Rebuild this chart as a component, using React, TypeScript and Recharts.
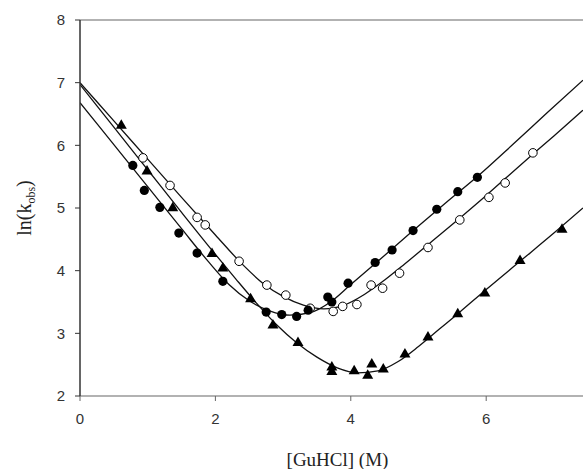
import React from "react";
import { ComposedChart, Line, Scatter, XAxis, YAxis, ReferenceLine } from "recharts";

// Data points
const filledCircles = [
  { x: 0.78, y: 5.68 }, { x: 0.95, y: 5.28 }, { x: 1.18, y: 5.01 }, { x: 1.46, y: 4.6 },
  { x: 1.73, y: 4.28 }, { x: 2.11, y: 3.83 }, { x: 2.75, y: 3.34 }, { x: 2.98, y: 3.3 },
  { x: 3.2, y: 3.27 }, { x: 3.37, y: 3.37 }, { x: 3.66, y: 3.58 }, { x: 3.72, y: 3.5 },
  { x: 3.96, y: 3.8 }, { x: 4.36, y: 4.13 }, { x: 4.61, y: 4.33 }, { x: 4.92, y: 4.64 },
  { x: 5.27, y: 4.98 }, { x: 5.58, y: 5.26 }, { x: 5.87, y: 5.49 },
];
const openCircles = [
  { x: 0.93, y: 5.8 }, { x: 1.33, y: 5.36 }, { x: 1.73, y: 4.85 }, { x: 1.85, y: 4.73 },
  { x: 2.35, y: 4.15 }, { x: 2.76, y: 3.77 }, { x: 3.04, y: 3.61 }, { x: 3.4, y: 3.4 },
  { x: 3.74, y: 3.35 }, { x: 3.88, y: 3.43 }, { x: 4.09, y: 3.46 }, { x: 4.3, y: 3.77 },
  { x: 4.47, y: 3.72 }, { x: 4.72, y: 3.96 }, { x: 5.14, y: 4.37 }, { x: 5.61, y: 4.81 },
  { x: 6.04, y: 5.17 }, { x: 6.28, y: 5.4 }, { x: 6.69, y: 5.88 },
];
const triangles = [
  { x: 0.61, y: 6.33 }, { x: 0.99, y: 5.6 }, { x: 1.37, y: 5.01 }, { x: 1.95, y: 4.28 },
  { x: 2.11, y: 4.05 }, { x: 2.52, y: 3.56 }, { x: 2.85, y: 3.14 }, { x: 3.22, y: 2.86 },
  { x: 3.72, y: 2.47 }, { x: 3.72, y: 2.4 }, { x: 4.05, y: 2.41 }, { x: 4.25, y: 2.34 },
  { x: 4.31, y: 2.52 }, { x: 4.48, y: 2.44 }, { x: 4.8, y: 2.68 }, { x: 5.14, y: 2.95 },
  { x: 5.58, y: 3.32 }, { x: 5.98, y: 3.65 }, { x: 6.5, y: 4.17 }, { x: 7.12, y: 4.67 },
];

// Fitted curves
const filledCurve = [
  { x: 0, y: 6.68 }, { x: 0.5, y: 6.01 }, { x: 1.0, y: 5.34 }, { x: 1.5, y: 4.67 },
  { x: 1.9, y: 4.14 }, { x: 2.2, y: 3.78 }, { x: 2.5, y: 3.52 }, { x: 2.8, y: 3.36 },
  { x: 3.1, y: 3.29 }, { x: 3.4, y: 3.33 }, { x: 3.7, y: 3.5 }, { x: 4.0, y: 3.78 },
  { x: 4.4, y: 4.15 }, { x: 4.9, y: 4.62 }, { x: 5.4, y: 5.08 }, { x: 5.9, y: 5.53 },
  { x: 6.4, y: 6.02 }, { x: 6.9, y: 6.52 }, { x: 7.43, y: 7.04 },
];
const openCurve = [
  { x: 0, y: 7.0 }, { x: 0.5, y: 6.39 }, { x: 1.0, y: 5.78 }, { x: 1.5, y: 5.17 },
  { x: 2.0, y: 4.57 }, { x: 2.4, y: 4.1 }, { x: 2.7, y: 3.8 }, { x: 3.0, y: 3.59 },
  { x: 3.3, y: 3.45 }, { x: 3.6, y: 3.39 }, { x: 3.9, y: 3.45 }, { x: 4.2, y: 3.62 },
  { x: 4.5, y: 3.85 }, { x: 4.8, y: 4.11 }, { x: 5.2, y: 4.47 }, { x: 5.6, y: 4.83 },
  { x: 6.0, y: 5.2 }, { x: 6.5, y: 5.68 }, { x: 7.0, y: 6.15 }, { x: 7.43, y: 6.56 },
];
const triangleCurve = [
  { x: 0, y: 6.97 }, { x: 0.5, y: 6.29 }, { x: 1.0, y: 5.61 }, { x: 1.5, y: 4.93 },
  { x: 2.0, y: 4.26 }, { x: 2.3, y: 3.87 }, { x: 2.6, y: 3.49 }, { x: 2.9, y: 3.14 },
  { x: 3.2, y: 2.85 }, { x: 3.5, y: 2.62 }, { x: 3.8, y: 2.45 }, { x: 4.1, y: 2.37 },
  { x: 4.4, y: 2.4 }, { x: 4.7, y: 2.55 }, { x: 5.0, y: 2.79 }, { x: 5.3, y: 3.06 },
  { x: 5.6, y: 3.33 }, { x: 6.0, y: 3.7 }, { x: 6.5, y: 4.15 }, { x: 7.0, y: 4.6 },
  { x: 7.43, y: 5.0 },
];

const xTicks = [0, 2, 4, 6];
const yTicks = [2, 3, 4, 5, 6, 7, 8];
const xLabel = "[GuHCl] (M)";

const tickFont = { fontSize: 15, fill: "#333", fontFamily: "Liberation Sans, Arial, sans-serif" };
const serif = "Liberation Serif, Times New Roman, serif";

const FilledDot = (p: any) => <circle cx={p.cx} cy={p.cy} r={4.6} fill="#000" />;
const OpenDot = (p: any) => (
  <circle cx={p.cx} cy={p.cy} r={4.3} fill="#fff" stroke="#000" strokeWidth={1} />
);
const TriDot = (p: any) => {
  const { cx, cy } = p;
  return (
    <polygon
      points={`${cx},${cy - 5.5} ${cx - 5.5},${cy + 4} ${cx + 5.5},${cy + 4}`}
      fill="#000"
    />
  );
};

const XLabel = (props: any) => {
  const vb = props.viewBox;
  return (
    <text x={vb.x + vb.width / 2 + 6} y={466} textAnchor="middle" fontSize={19} fontFamily={serif} fill="#222">
      {xLabel}
    </text>
  );
};

const YLabel = (props: any) => {
  const vb = props.viewBox;
  const cx = 31;
  const cy = vb.y + vb.height / 2;
  return (
    <text x={cx} y={cy} transform={`rotate(-90, ${cx}, ${cy})`} textAnchor="middle" fontSize={20} fontFamily={serif} fill="#222">
      <tspan>ln(k</tspan>
      <tspan fontSize={12} dy={4}>obs</tspan>
      <tspan dy={-4}>)</tspan>
    </text>
  );
};

export default function App() {
  return (
    <div style={{ position: "absolute", left: 0, top: 0, width: 583, height: 469, background: "#fff" }}>
      <ComposedChart width={583} height={469} margin={{ top: 20, right: 0, bottom: 43, left: 40 }}>
        <XAxis
          type="number"
          dataKey="x"
          domain={[0, 7.43]}
          ticks={xTicks}
          allowDataOverflow
          tick={tickFont}
          tickSize={5}
          tickMargin={12}
          axisLine={{ stroke: "#999", strokeWidth: 1.5 }}
          tickLine={{ stroke: "#666" }}
          height={30}
          label={<XLabel />}
        />
        <YAxis
          type="number"
          dataKey="y"
          domain={[2, 8]}
          ticks={yTicks}
          allowDataOverflow
          tick={tickFont}
          tickSize={5}
          tickMargin={10}
          axisLine={{ stroke: "#333", strokeWidth: 1.5 }}
          tickLine={{ stroke: "#333" }}
          width={40}
          label={<YLabel />}
        />
        <ReferenceLine y={8} stroke="#999" strokeWidth={1.5} />
        <Line data={filledCurve} dataKey="y" type="monotone" stroke="#111" strokeWidth={1.3} dot={false} isAnimationActive={false} />
        <Line data={openCurve} dataKey="y" type="monotone" stroke="#111" strokeWidth={1.3} dot={false} isAnimationActive={false} />
        <Line data={triangleCurve} dataKey="y" type="monotone" stroke="#111" strokeWidth={1.3} dot={false} isAnimationActive={false} />
        <Scatter data={openCircles} dataKey="y" shape={OpenDot} isAnimationActive={false} />
        <Scatter data={filledCircles} dataKey="y" shape={FilledDot} isAnimationActive={false} />
        <Scatter data={triangles} dataKey="y" shape={TriDot} isAnimationActive={false} />
      </ComposedChart>
    </div>
  );
}
